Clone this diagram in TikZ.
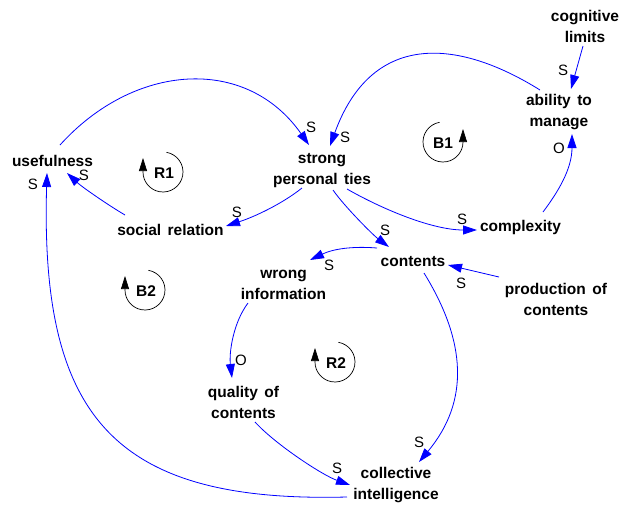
\documentclass[tikz,border=0pt]{standalone}
\usepackage{fontspec}
\setmainfont{Liberation Sans}[WordSpace=1.5]
\usetikzlibrary{arrows.meta}
\definecolor{linkblue}{RGB}{0,0,255}
\begin{document}
\begin{tikzpicture}[x=1pt,y=-1pt,
  var/.style={font=\fontsize{15.5}{21}\selectfont\bfseries, align=center, inner sep=1pt},
  pol/.style={font=\fontsize{15}{16}\selectfont, inner sep=0pt},
  link/.style={draw=linkblue, line width=0.8pt, -{Triangle[length=14pt,width=9pt]}},
  loopname/.style={font=\fontsize{15.5}{18}\selectfont\bfseries, inner sep=0pt},
  looparrow/.style={draw=black, line width=0.7pt, -{Triangle[length=13pt,width=8pt]}}
]
\useasboundingbox (0,0) rectangle (627,504);

% variables
\node[var] (cog) at (585,26.5) {cognitive\\limits};
\node[var] (abil) at (559,112.5) {ability to\\manage};
\node[var] (use) at (52.5,161) {usefulness};
\node[var] (strong) at (322,171) {strong\\personal ties};
\node[var] (social) at (170.5,230) {social relation};
\node[var] (complex) at (520.5,227) {complexity};
\node[var] (contents) at (413,262) {contents};
\node[var] (wrong) at (283.5,284.5) {wrong\\information};
\node[var] (prod) at (556,299.5) {production of\\contents};
\node[var] (quality) at (243.5,402) {quality of\\contents};
\node[var] (ci) at (396,485) {collective\\intelligence};

% links
\draw[link] ([shift={(7.5,-16)}]use.center) .. controls +(74,-82) and +(-63,-90) .. ([shift={(-13,-26)}]strong.center);
\draw[link] ([shift={(-19,-22.5)}]abil.center) .. controls +(-85,-53) and +(41,-113) .. ([shift={(8,-25)}]strong.center);
\draw[link] ([shift={(-2,19.5)}]cog.center) -- ([shift={(12,-23.5)}]abil.center);
\draw[link] ([shift={(-20,17)}]strong.center) .. controls +(-20,16) and +(28,-9) .. ([shift={(55.5,-4)}]social.center);
\draw[link] ([shift={(-45.5,-15)}]social.center) .. controls +(-17,-10) and +(15,14) .. ([shift={(14.5,12)}]use.center);
\draw[link] ([shift={(25,18)}]strong.center) .. controls +(35,20) and +(-45,0) .. ([shift={(-43.5,3)}]complex.center);
\draw[link] ([shift={(22.5,-15)}]complex.center) .. controls +(15,-20) and +(0,35) .. ([shift={(13,21.5)}]abil.center);
\draw[link] ([shift={(11,19)}]strong.center) .. controls +(11,16) and +(-16,-12) .. ([shift={(-24,-15)}]contents.center);
\draw[link] ([shift={(-36,-14)}]contents.center) .. controls +(-25,-2) and +(23,-11) .. ([shift={(26.5,-24.5)}]wrong.center);
\draw[link] ([shift={(-57,-22.5)}]prod.center) -- ([shift={(35,3)}]contents.center);
\draw[link] ([shift={(-35.5,18.5)}]wrong.center) .. controls +(-15,20) and +(-3,-25) .. ([shift={(-11.5,-24)}]quality.center);
\draw[link] ([shift={(11,11)}]contents.center) .. controls +(42,68) and +(51,-61) .. ([shift={(23,-23)}]ci.center);
\draw[link] ([shift={(11.5,20)}]quality.center) .. controls +(20,22) and +(-28,-10) .. ([shift={(-46,0)}]ci.center);
\draw[link] ([shift={(-49,12)}]ci.center) .. controls +(-232,6) and +(-7,245) .. ([shift={(-5.5,12)}]use.center);

% polarities
\node[pol] (p1) at (311,127) {S};
\node[pol] (p2) at (345,137) {S};
\node[pol] (p3) at (563,70) {S};
\node[pol] (p4) at (237,212) {S};
\node[pol] (p5) at (84,175) {S};
\node[pol] (p6) at (33,184) {S};
\node[pol] (p7) at (462,219) {S};
\node[pol] (p8) at (559,148) {O};
\node[pol] (p9) at (385,230) {S};
\node[pol] (p10) at (329,265) {S};
\node[pol] (p11) at (461,283) {S};
\node[pol] (p12) at (241,360) {O};
\node[pol] (p13) at (419,442) {S};
\node[pol] (p14) at (337,468) {S};

% loops
\node[loopname] (r1) at (164,173) {R1};
\node[loopname] (b1) at (443,143) {B1};
\node[loopname] (b2) at (146,291) {B2};
\node[loopname] (r2) at (336,363) {R2};
\begin{scope}[shift={(163,172)},y=1pt]
  \draw[looparrow] (80:20) arc[start angle=80, end angle=-180, radius=20] -- ++(0,14);
\end{scope}
\begin{scope}[shift={(145,290)},y=1pt]
  \draw[looparrow] (80:20) arc[start angle=80, end angle=-180, radius=20] -- ++(0,14);
\end{scope}
\begin{scope}[shift={(335,362)},y=1pt]
  \draw[looparrow] (80:20) arc[start angle=80, end angle=-180, radius=20] -- ++(0,14);
\end{scope}
\begin{scope}[shift={(443,142)},y=1pt]
  \draw[looparrow] (100:20) arc[start angle=100, end angle=360, radius=20] -- ++(0,13);
\end{scope}
\end{tikzpicture}
\end{document}
